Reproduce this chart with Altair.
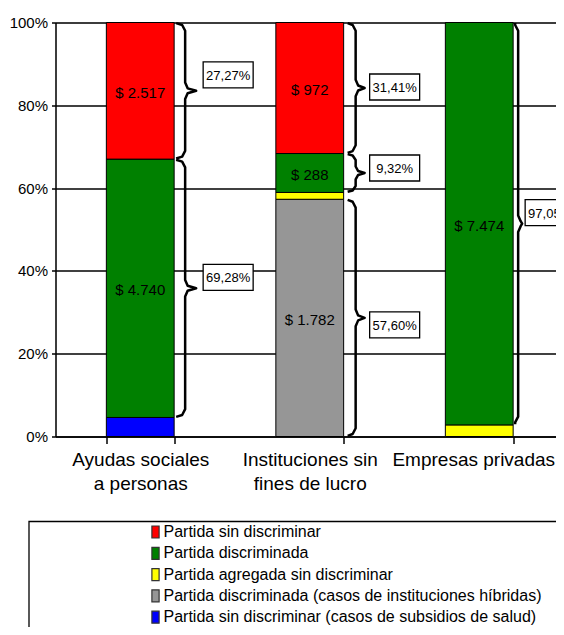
import altair as alt
import pandas as pd

# ---------------- data ----------------
categories = ["Ayudas sociales|a personas", "Instituciones sin|fines de lucro", "Empresas privadas"]
series_names = [
    "Partida sin discriminar",
    "Partida discriminada",
    "Partida agregada sin discriminar",
    "Partida discriminada (casos de instituciones híbridas)",
    "Partida sin discriminar (casos de subsidios de salud)",
]
series_colors = ["#FF0000", "#008000", "#FFFF00", "#969696", "#0000FF"]

# segments, bottom to top
seg_category = [0, 0, 0, 1, 1, 1, 1, 2, 2]
seg_series = [4, 1, 0, 3, 2, 1, 0, 2, 1]
seg_percent = [4.6, 62.4, 33.0, 57.3, 1.65, 9.4, 31.65, 2.8, 97.2]
seg_amount = ["", "$ 4.740", "$ 2.517", "$ 1.782", "", "$ 288", "$ 972", "", "$ 7.474"]
seg_share = ["", "69,28%", "27,27%", "57,60%", "", "9,32%", "31,41%", "", "97,05%"]

# ---------------- style ----------------
W, H = 508.5, 414
UNIT = W / 3.0          # px per category step
PCT = H / 100.0         # px per percent
SANS = "Liberation Sans"
hook_dx = [2, 4, 2]
line_dx = [11, 12, 5]
tip_dx = [22, 21, 9]
box_dx = [29, 26, 12]
box_w, box_h = 50, 26
box_shift_px = [0, -11, -16, 7, 0, -5, -1, 0, -11]   # vertical offset of label box vs brace tip

# ---------------- derived tables ----------------
bar_rows, amt_rows, brace_rows, box_rows = [], [], [], []
cum = {0: 0.0, 1: 0.0, 2: 0.0}
for i, (c, s, p) in enumerate(zip(seg_category, seg_series, seg_percent)):
    y0 = cum[c]
    y1 = y0 + p
    cum[c] = y1
    m = (y0 + y1) / 2
    bar_rows.append({"cat": categories[c], "series": series_names[s], "y0": y0, "y1": y1})
    if seg_amount[i]:
        amt_rows.append({"x": c + 0.5, "y": m, "label": seg_amount[i]})
    if seg_share[i]:
        xb = c + 0.7
        u = lambda px: xb + px / UNIT
        r = min(2.0, (y1 - y0) / 6)
        ln, tp, hk = line_dx[c], tip_dx[c], hook_dx[c]
        pts = [
            (u(hk), y1 - 0.15), (u(ln - 3), y1 - r * 0.3), (u(ln), y1 - r),
            (u(ln), m + r), (u(ln + 2.5), m + r * 0.3), (u(tp), m),
            (u(ln + 2.5), m - r * 0.3), (u(ln), m - r),
            (u(ln), y0 + r), (u(ln - 3), y0 + r * 0.3), (u(hk), y0 + 0.15),
        ]
        for k, (px, py) in enumerate(pts):
            brace_rows.append({"id": i, "k": k, "x": px, "y": py})
        yc = m - box_shift_px[i] / PCT
        box_rows.append({
            "xl": u(box_dx[c]), "xr": u(box_dx[c] + box_w), "xc": u(box_dx[c] + box_w / 2),
            "yb": yc - box_h / 2 / PCT, "yt": yc + box_h / 2 / PCT, "yc": yc,
            "label": seg_share[i],
        })

bar_df = pd.DataFrame(bar_rows)
amt_df = pd.DataFrame(amt_rows)
brace_df = pd.DataFrame(brace_rows)
box_df = pd.DataFrame(box_rows)

yaxis = alt.Axis(
    values=[0, 20, 40, 60, 80, 100], labelExpr="datum.value + '%'", title=None,
    grid=True, gridColor="black", gridWidth=1.5, domainColor="black", domainWidth=1.5,
    tickColor="black", tickSize=4, tickWidth=1.5, labelFont=SANS, labelFontSize=15,
    labelColor="black", labelPadding=4,
)
yscale = alt.Scale(domain=[0, 100], nice=False)

bars = alt.Chart(bar_df).mark_bar(stroke="black", strokeWidth=1).encode(
    x=alt.X("cat:N", sort=categories,
            scale=alt.Scale(paddingInner=0.6, paddingOuter=0.3),
            axis=alt.Axis(title=None, labelAngle=0, tickBand="extent", tickSize=7,
                          tickColor="black", tickWidth=1.5, domainColor="black",
                          domainWidth=1.5, labelFont=SANS, labelFontSize=19,
                          labelColor="black", labelPadding=7, labelLineHeight=23.5,
                          labelExpr="split(datum.label, '|')", labelLimit=0,
                          labelOffset={"condition": {"test": "datum.value == 'Empresas privadas'",
                                                     "value": -6},
                                       "value": 0})),
    y=alt.Y("y0:Q", scale=yscale, axis=yaxis),
    y2="y1:Q",
    color=alt.Color("series:N", scale=alt.Scale(domain=series_names, range=series_colors),
                    legend=alt.Legend(orient="none", legendX=92, legendY=501.5, title=None,
                                      labelFont=SANS, labelFontSize=16, labelColor="black",
                                      symbolType="M-0.6,-1H0.6V1H-0.6Z", symbolSize=144,
                                      symbolStrokeColor="#333333", symbolStrokeWidth=1.2,
                                      rowPadding=3.3, labelOffset=0, padding=0, labelLimit=0,
                                      symbolOpacity=1)),
)

xq = alt.Scale(domain=[0, 3], nice=False, zero=False)

amt_text = alt.Chart(amt_df).mark_text(font=SANS, fontSize=15, color="black",
                                       baseline="middle", dy=2).encode(
    x=alt.X("x:Q", scale=xq, axis=None),
    y=alt.Y("y:Q", scale=yscale, axis=yaxis),
    text="label:N",
)

braces = alt.Chart(brace_df).mark_line(color="black", strokeWidth=2.5,
                                       strokeJoin="round").encode(
    x=alt.X("x:Q", scale=xq, axis=None),
    y=alt.Y("y:Q", scale=yscale, axis=yaxis),
    detail="id:N",
    order="k:Q",
)

boxes = alt.Chart(box_df).mark_rect(fill="white", stroke="black", strokeWidth=1.3).encode(
    x=alt.X("xl:Q", scale=xq, axis=None), x2="xr:Q",
    y=alt.Y("yb:Q", scale=yscale, axis=yaxis), y2="yt:Q",
)

box_text = alt.Chart(box_df).mark_text(font=SANS, fontSize=13, color="black",
                                       baseline="middle", dy=1).encode(
    x=alt.X("xc:Q", scale=xq, axis=None),
    y=alt.Y("yc:Q", scale=yscale, axis=yaxis),
    text="label:N",
)

legend_box = alt.Chart(alt.Data(values=[{"a": 1}])).mark_rect(
    fillOpacity=0, stroke="black", strokeWidth=1.3
).encode(x=alt.value(-26.5), x2=alt.value(620), y=alt.value(499), y2=alt.value(720))

overlay = alt.layer(amt_text, braces, boxes, box_text, legend_box)

chart = alt.layer(bars, overlay).resolve_scale(x="independent").properties(
    width=W, height=H,
    autosize=alt.AutoSizeParams(type="none"),
    padding={"left": 47.5, "top": 14.5, "right": -8, "bottom": 190.5},
).configure_view(strokeOpacity=0).configure(background="white")

chart.save("out.html", embed_options={"renderer": "svg", "actions": False})
